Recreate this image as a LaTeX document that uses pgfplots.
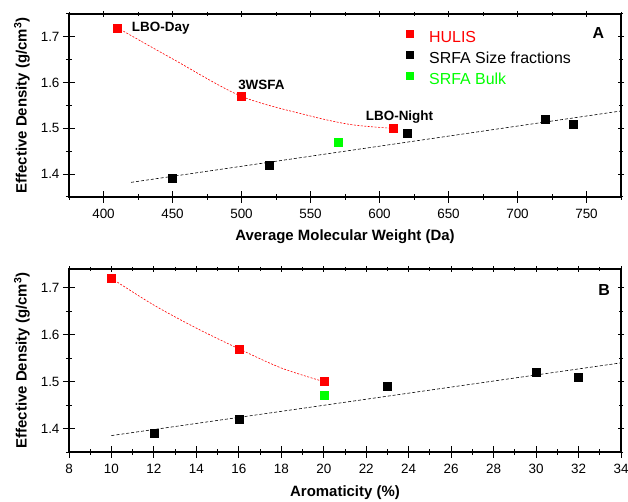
\documentclass[border=0pt]{standalone}
\usepackage{fontspec}
\setmainfont{Liberation Sans}
\usepackage{pgfplots}
\pgfplotsset{compat=1.18}
\definecolor{hred}{RGB}{255,0,0}
\definecolor{hgreen}{RGB}{0,255,0}
\tikzset{
  ann/.style={font=\bfseries\fontsize{13.5}{15}\selectfont, anchor=west, inner sep=0pt},
  panel/.style={font=\bfseries\fontsize{16}{18}\selectfont, inner sep=0pt},
}
\pgfplotsset{
  base/.style={
    scale only axis, width=552bp, height=183bp,
    axis line style={line width=1.3pt},
    every tick/.style={black, line width=1pt},
    /pgf/number format/assume math mode=true,
    tick label style={font=\fontsize{13.5}{15}\selectfont},
    label style={font=\bfseries\fontsize{15}{17}\selectfont},
    yticklabel style={/pgf/number format/.cd, fixed, precision=1, fixed zerofill},
    xticklabel style={yshift=-3bp, /pgf/number format/.cd, fixed, 1000 sep={}},
    clip=false,
  },
  main/.style={base, xtick pos=bottom, ytick pos=left, tick align=center,
    major tick length=12bp, minor tick length=6bp},
  mirror/.style={base, xtick pos=top, ytick pos=right, tick align=center,
    major tick length=6bp, minor tick length=4bp,
    xticklabels={}, yticklabels={}},
  hulis/.style={only marks, mark=square*, mark size=4bp, color=hred},
  srfa/.style={only marks, mark=square*, mark size=4bp, color=black},
  bulk/.style={only marks, mark=square*, mark size=4bp, color=hgreen},
  fitred/.style={smooth, hred, line width=0.6pt, dash pattern=on 2pt off 1.5pt, no marks},
  fitblack/.style={black, line width=0.6pt, dash pattern=on 3pt off 2pt, no marks},
}
\begin{document}
\begin{tikzpicture}
\useasboundingbox (0,0) rectangle (628bp,502bp);
% ---------------- Panel A ----------------
\begin{axis}[mirror, at={(69bp,305bp)}, anchor=south west,
  xmin=375, xmax=775, ymin=1.35, ymax=1.75,
  xtick={400,450,...,750}, minor xtick={375,425,...,775},
  ytick={1.4,1.5,1.6,1.7}, minor ytick={1.35,1.45,1.55,1.65,1.75}]
\end{axis}
\begin{axis}[main, at={(69bp,305bp)}, anchor=south west,
  xmin=375, xmax=775, ymin=1.35, ymax=1.75,
  xtick={400,450,...,750}, minor xtick={375,425,...,775},
  ytick={1.4,1.5,1.6,1.7}, minor ytick={1.35,1.45,1.55,1.65,1.75},
  xlabel={Average Molecular Weight (Da)},
  ylabel={Effective Density (g/cm\textsuperscript{3})},
  xlabel style={at={(axis description cs:0.5,-0.2186)}, anchor=center},
  ylabel style={at={(axis description cs:-0.0851,0.5)}, anchor=center},
  legend style={at={(axis cs:619,1.716)}, anchor=north west, draw=none, fill=none,
    font=\fontsize{16}{19}\selectfont, inner sep=0pt, column sep=16bp, row sep=5.5bp,
    nodes={inner sep=0pt, text height=12bp, text depth=3bp}},
  legend cell align=left,
  legend image code/.code={\draw[#1, mark size=3.6bp] plot coordinates {(0bp,4.5bp)};},
]
\addplot[fitred, forget plot] coordinates {(410,1.72) (450,1.652) (500,1.57) (550,1.527) (580,1.508) (610,1.50)};
\addplot[fitblack, forget plot] coordinates {(420,1.382) (775,1.538)};
\addplot[hulis] coordinates {(410,1.72) (500,1.57) (610,1.50)};
\addlegendentry{\textcolor{hred}{HULIS}}
\addplot[srfa] coordinates {(450,1.39) (520,1.42) (620,1.49) (720,1.52) (740,1.51)};
\addlegendentry{SRFA Size fractions}
\addplot[bulk] coordinates {(570,1.47)};
\addlegendentry{\textcolor{hgreen}{SRFA Bulk}}
\node[ann] at (axis cs:420.5,1.719) {LBO-Day};
\node[ann] at (axis cs:497.5,1.595) {3WSFA};
\node[ann] at (axis cs:590,1.5255) {LBO-Night};
\node[panel] at (axis cs:758.6,1.708) {A};
\end{axis}
% ---------------- Panel B ----------------
\begin{axis}[mirror, at={(69bp,50bp)}, anchor=south west,
  xmin=8, xmax=34, ymin=1.35, ymax=1.74,
  xtick={8,10,...,34}, minor xtick={9,11,...,33},
  ytick={1.4,1.5,1.6,1.7}, minor ytick={1.35,1.45,1.55,1.65}]
\end{axis}
\begin{axis}[main, at={(69bp,50bp)}, anchor=south west,
  xmin=8, xmax=34, ymin=1.35, ymax=1.74,
  xtick={8,10,...,34}, minor xtick={9,11,...,33},
  ytick={1.4,1.5,1.6,1.7}, minor ytick={1.35,1.45,1.55,1.65},
  xlabel={Aromaticity (\%)},
  ylabel={Effective Density (g/cm\textsuperscript{3})},
  xlabel style={at={(axis description cs:0.5,-0.224)}, anchor=center},
  ylabel style={at={(axis description cs:-0.0851,0.5)}, anchor=center},
]
\addplot[fitred] coordinates {(10,1.72) (12,1.663) (14,1.614) (16,1.57) (18,1.529) (20,1.50)};
\addplot[fitblack] coordinates {(10,1.385) (34,1.54)};
\addplot[hulis] coordinates {(10,1.72) (16,1.57) (20,1.50)};
\addplot[srfa] coordinates {(12,1.39) (16,1.42) (23,1.49) (30,1.52) (32,1.51)};
\addplot[bulk] coordinates {(20,1.47)};
\node[panel] at (axis cs:33.2,1.695) {B};
\end{axis}
\end{tikzpicture}
\end{document}
